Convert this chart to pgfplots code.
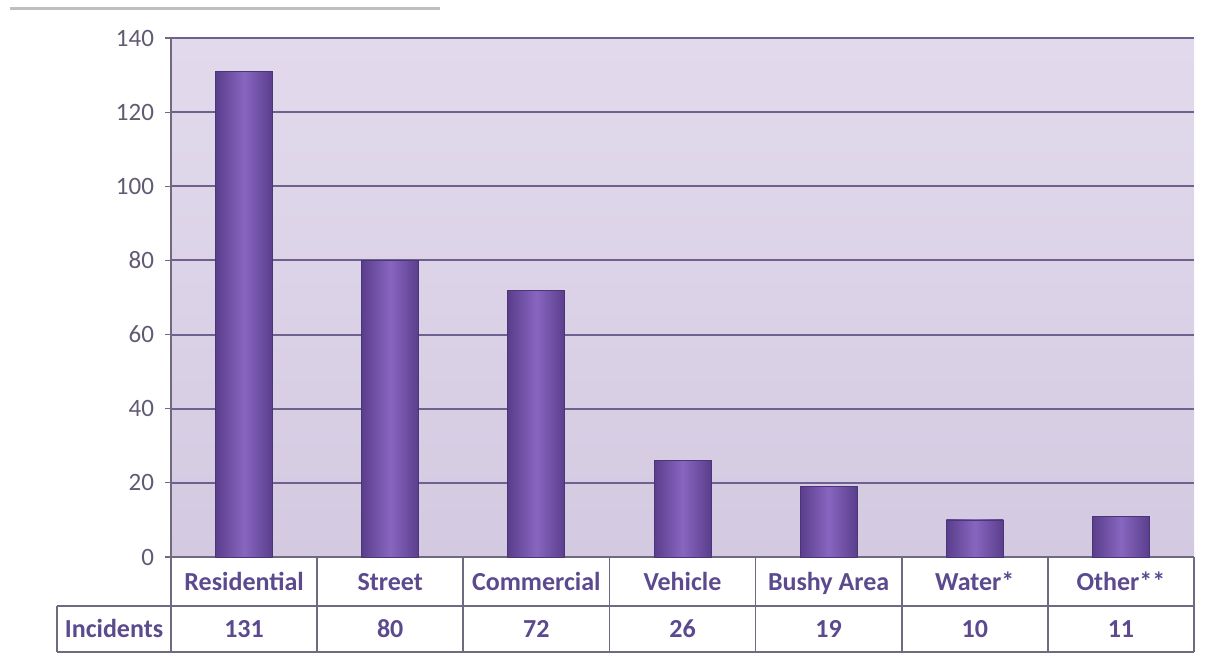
\documentclass[border=0pt]{standalone}
\usepackage{pgfplots}
\usepackage{pgfplotstable}
\usepackage{fontspec}
\setmainfont{Carlito}
\pgfplotsset{compat=1.18}

\definecolor{bgtop}{HTML}{E2DAEC}
\definecolor{bgbot}{HTML}{D3CAE1}
\definecolor{gridcol}{HTML}{6E6190}
\definecolor{barmid}{HTML}{8866C0}
\definecolor{baredge}{HTML}{5A3E8C}
\definecolor{labcol}{HTML}{5B4A8E}
\definecolor{tickcol}{HTML}{615A72}
\definecolor{linecol}{HTML}{6F6A80}

% incidents by location
\pgfplotstableread{
x v
0 131
1 80
2 72
3 26
4 19
5 10
6 11
}\incidents

\begin{document}
\begin{tikzpicture}
\useasboundingbox (0,0) rectangle (608pt,329.5pt);
\draw[black!25, line width=1.5pt] (5pt,325pt) -- (220pt,325pt);
\begin{axis}[
    at={(85.5pt,51pt)}, anchor=south west,
    scale only axis,
    width=511.5pt, height=259.5pt,
    xmin=-0.5, xmax=6.5,
    ymin=0, ymax=140,
    ytick={0,20,...,140},
    xtick={0,...,6},
    xticklabels={Residential, Street, Commercial, Vehicle, Bushy Area, Water*, Other**},
    xticklabel style={anchor=base, yshift=-13.5pt, font=\fontsize{13}{15}\selectfont\bfseries, text=labcol},
    yticklabel style={font=\fontsize{12.5}{14}\selectfont, text=tickcol, xshift=-2pt},
    /pgf/number format/assume math mode=true,
    xtick style={draw=none},
    ytick style={draw=linecol, line width=0.6pt},
    tick align=outside,
    major tick length=3pt,
    axis x line*=bottom,
    axis y line*=left,
    axis line style={draw=linecol, line width=0.8pt, -},
    ymajorgrids=true,
    grid style={draw=gridcol, line width=1pt},
    axis background/.style={top color=bgtop, bottom color=bgbot},
    clip=false,
]
% one plot per bar so that each bar gets its own shading
\pgfplotsinvokeforeach{0,...,6}{
  \addplot[ybar, bar width=28.5pt, draw=baredge!85!black, line width=0.4pt,
      left color=baredge, right color=baredge, middle color=barmid,
      restrict x to domain=#1:#1]
      table[x=x, y=v] {\incidents};
}
\addplot[draw=none, mark=none, point meta=explicit,
    nodes near coords={\pgfmathprintnumber{\pgfplotspointmeta}},
    nodes near coords style={anchor=center, font=\fontsize{13}{15}\selectfont\bfseries, text=labcol}]
    table[x=x, y expr=-19.4, meta=v] {\incidents};
\node[font=\fontsize{13}{15}\selectfont\bfseries, text=labcol] at (axis cs:-0.89,-19.2) {Incidents};
\pgfplotsinvokeforeach{0.5,1.5,2.5,3.5,4.5,5.5,6.5}{
  \draw[linecol, line width=0.8pt] (axis cs:#1,0) -- (axis cs:#1,-25.6);
}
\draw[linecol, line width=0.8pt] (axis cs:-0.5,0) -- (axis cs:-0.5,-25.6);
\draw[linecol, line width=0.8pt] (axis cs:-1.28,-13.2) -- (axis cs:6.5,-13.2);
\draw[linecol, line width=0.8pt] (axis cs:-1.28,-25.6) -- (axis cs:6.5,-25.6);
\draw[linecol, line width=0.8pt] (axis cs:-1.28,-13.2) -- (axis cs:-1.28,-25.6);
\end{axis}
\end{tikzpicture}
\end{document}
